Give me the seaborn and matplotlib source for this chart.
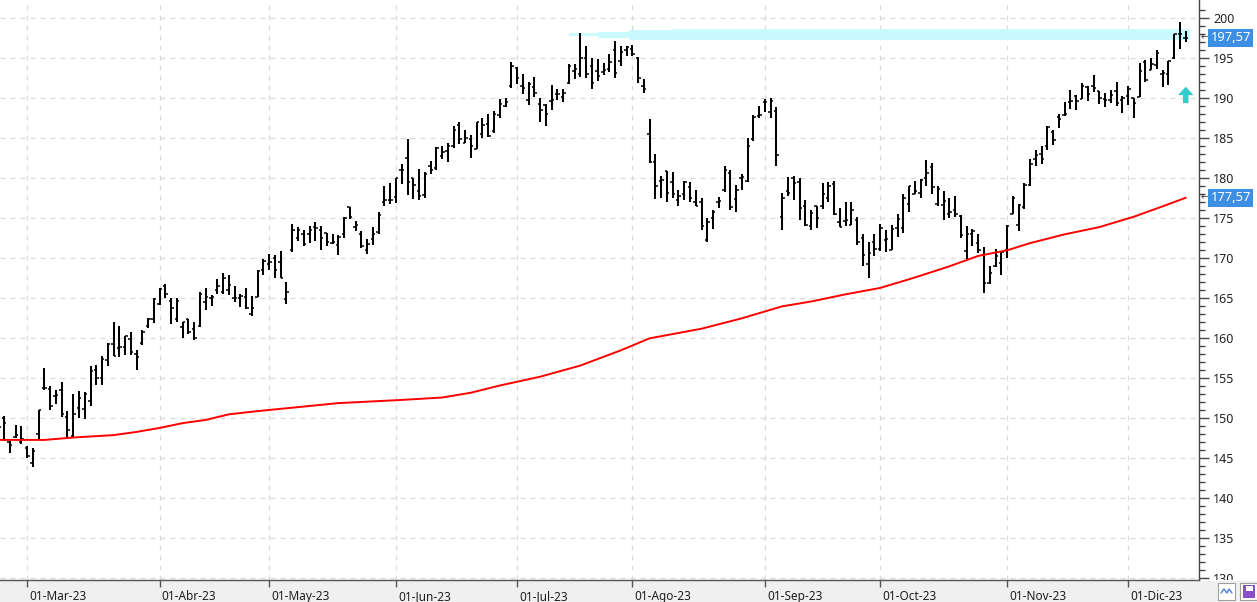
import matplotlib
matplotlib.use("Agg")
import matplotlib.pyplot as plt
import matplotlib.patches as mpatches
import matplotlib.transforms as mtransforms
import numpy as np
import pandas as pd
import seaborn as sns

# ---------------- data ----------------
us_holidays = ["2023-04-07", "2023-05-29", "2023-06-19", "2023-07-04", "2023-09-04", "2023-11-23"]
dates = pd.bdate_range("2023-02-22", "2023-12-15", freq="C", holidays=us_holidays)

open_ = [148.9,150.1,147.1,147.7,147.1,
 146.3,144.4,148.0,153.8,153.7,152.8,153.6,150.2,147.8,151.3,151.2,152.2,156.1,155.1,157.3,159.3,158.8,158.9,159.9,158.0,159.4,161.5,162.4,
 164.3,166.6,164.7,162.4,161.4,162.4,161.2,161.6,164.6,165.1,166.1,165.8,166.1,165.1,165.0,165.2,163.1,165.2,168.5,
 169.3,170.1,169.5,164.9,171.0,172.5,173.1,173.0,173.9,173.6,173.2,171.9,171.7,173.0,176.4,173.9,173.1,171.1,172.4,173.3,177.0,177.3,
 177.7,181.0,182.6,180.0,178.4,177.9,181.5,181.3,182.8,183.4,184.0,186.7,184.4,184.9,183.7,185.6,186.8,185.9,187.9,189.1,191.6,
 193.8,191.6,189.8,191.4,189.3,189.2,189.7,190.5,190.2,191.9,193.4,193.1,195.1,194.1,193.4,193.3,193.7,196.0,194.7,196.1,
 196.2,195.0,191.6,185.5,182.1,179.7,180.9,179.5,177.3,178.0,178.9,177.1,177.1,172.3,175.1,177.1,178.5,180.7,177.4,180.1,179.7,184.9,187.8,
 189.5,188.3,188.4,175.2,178.4,180.1,179.5,176.5,174.0,176.5,176.5,177.5,179.3,174.6,174.7,174.2,174.8,172.6,169.3,172.0,
 171.2,172.3,171.1,173.8,173.8,176.8,178.1,178.2,180.1,181.4,176.8,176.7,175.6,176.0,175.3,170.9,173.1,171.9,170.4,166.9,169.0,169.4,
 171.0,175.5,174.2,176.4,179.2,182.4,183.0,184.0,185.8,187.7,187.9,189.6,190.3,189.9,191.4,191.5,190.9,189.9,189.8,190.9,189.8,
 190.3,190.0,190.2,194.5,193.6,194.2,193.1,193.1,195.1,198.0,197.5]

high = [150.0,150.3,147.2,149.2,149.1,
 146.6,146.3,151.1,156.3,154.0,153.5,154.5,150.9,153.1,153.4,153.3,156.5,156.7,157.8,159.4,162.1,161.6,160.3,160.8,158.5,161.1,162.5,165.0,
 166.3,166.8,165.1,165.0,162.0,162.4,162.1,165.8,166.3,165.4,167.4,168.2,167.9,166.5,165.6,166.3,165.3,168.6,169.9,
 170.5,170.4,170.9,167.0,174.3,173.9,173.5,174.0,174.6,174.1,173.2,173.1,172.9,175.2,176.4,174.7,173.4,172.4,173.9,175.8,179.0,179.4,
 180.1,181.8,184.9,180.1,181.2,180.8,182.2,183.9,184.1,184.4,186.5,187.0,186.1,185.4,187.1,187.6,188.1,188.4,189.9,190.1,194.5,
 193.9,193.0,192.0,192.7,190.0,189.3,191.7,191.2,191.2,194.3,194.3,198.2,196.5,195.0,194.9,194.4,195.6,197.2,196.6,196.5,
 196.7,195.2,192.4,187.4,183.1,180.3,180.9,180.8,178.6,179.7,179.5,178.5,177.5,175.1,176.1,177.7,181.6,181.1,179.2,180.6,185.0,187.9,189.1,
 189.9,190.0,188.9,178.2,180.2,180.3,180.1,177.3,176.1,176.5,179.4,179.6,179.7,176.3,177.1,177.0,175.2,173.0,172.0,173.1,
 174.3,173.6,174.2,175.5,178.0,179.1,179.7,179.9,182.3,181.9,179.1,178.4,177.6,177.8,175.4,174.0,173.7,173.1,171.4,169.0,171.2,170.9,
 174.2,177.8,176.8,179.4,182.4,183.5,184.1,186.6,186.0,188.1,189.5,191.0,190.4,191.9,191.5,192.9,190.9,190.7,191.1,192.1,190.3,
 191.6,190.1,194.4,194.8,195.0,196.0,193.5,194.7,198.0,199.6,198.4]

low = [147.2,147.2,145.7,147.5,146.8,
 145.0,143.9,147.3,153.5,151.1,151.8,150.2,147.6,147.7,150.1,149.9,151.6,154.2,154.2,156.5,157.8,157.7,157.9,157.9,156.0,159.2,161.3,161.9,
 164.2,165.1,161.8,162.0,160.1,160.5,159.8,161.4,163.5,164.0,165.6,165.5,165.4,164.5,163.9,163.7,162.8,165.2,167.9,
 168.6,167.5,167.5,164.3,170.8,172.2,171.6,171.9,172.2,171.0,171.5,171.8,170.4,172.6,174.9,173.4,171.3,170.5,171.7,173.1,176.6,176.8,
 176.9,179.3,177.9,177.4,177.3,177.5,180.6,181.0,182.4,182.0,183.8,184.3,184.4,182.6,183.7,185.0,185.2,185.7,187.6,188.9,191.3,
 191.8,190.6,189.2,190.2,187.0,186.6,188.5,189.8,189.6,191.8,192.4,192.7,192.5,191.2,192.2,192.9,193.3,192.6,194.1,195.3,
 195.3,191.9,190.7,181.9,177.4,177.6,177.0,177.6,176.6,177.3,177.0,176.5,173.5,172.0,173.7,176.3,178.3,176.0,175.8,178.5,179.6,184.7,187.5,
 188.3,187.6,181.5,173.5,177.8,177.3,174.8,174.0,173.6,173.8,176.2,177.1,175.4,173.9,174.1,174.2,171.7,169.1,167.6,170.3,
 170.9,170.8,171.0,172.7,173.2,175.8,178.0,177.6,179.0,178.1,176.5,174.8,175.1,175.2,172.6,169.9,171.5,170.7,165.7,166.8,168.9,167.9,
 170.1,175.5,173.4,176.2,179.0,181.6,181.8,183.5,184.2,186.3,187.8,188.7,188.6,189.9,189.7,190.8,189.3,188.9,189.4,189.0,188.2,
 189.2,187.5,190.2,192.1,193.6,193.7,191.4,191.7,194.9,196.2,197.0]

close = [148.9,149.4,146.7,147.9,147.4,
 145.3,145.9,151.0,153.8,151.6,152.9,150.6,148.5,150.5,152.6,153.0,155.9,155.0,157.4,159.3,157.8,158.9,160.3,158.3,157.7,160.8,162.4,164.9,
 166.2,165.6,163.8,164.7,162.0,160.8,160.1,165.6,165.2,165.2,166.5,167.6,166.7,165.0,165.3,163.8,163.8,168.4,169.7,
 169.6,168.5,167.5,165.8,173.6,173.5,171.8,173.6,173.8,172.6,172.1,172.1,172.7,175.1,175.2,174.2,171.6,171.8,173.0,175.4,177.3,177.3,
 180.1,181.0,179.6,179.2,177.8,180.6,181.0,183.8,183.3,184.0,186.0,184.9,185.0,184.0,187.0,186.7,185.3,188.1,189.3,189.6,194.0,
 192.5,191.3,191.8,190.7,188.6,188.1,189.8,190.5,190.7,194.0,193.7,195.1,193.1,191.9,192.8,193.6,194.5,193.2,195.8,196.4,
 195.6,192.6,191.2,182.0,179.0,179.8,178.2,178.0,177.8,179.5,177.5,176.6,174.0,174.5,175.8,177.2,181.1,176.4,178.6,180.2,184.1,187.7,187.9,
 189.5,189.7,182.9,177.6,178.2,179.4,176.3,174.2,175.7,175.0,178.0,179.1,175.5,173.9,174.8,176.1,172.0,170.4,170.7,171.2,
 173.8,172.4,173.7,174.9,177.5,179.0,178.4,179.8,180.7,178.9,178.7,177.2,175.8,175.5,172.9,173.0,173.4,171.1,166.9,168.2,170.3,170.8,
 174.0,177.6,176.7,179.2,181.8,182.9,182.4,186.4,184.8,187.4,188.0,189.7,189.7,191.5,190.6,191.3,190.0,189.8,190.4,189.4,190.0,
 191.2,189.4,193.4,192.3,194.3,195.7,193.2,194.7,198.0,198.1,197.57]

# 200-session moving average (red line), read at bar positions
ma_idx = [0, 8, 13, 20, 24, 28, 32, 36, 40, 45, 52, 59, 70, 77, 82, 87, 94, 101, 108, 113,
          122, 129, 136, 141, 147, 153, 159, 165, 170, 175, 179, 185, 191, 197, 202, 206]
ma_val = [147.3, 147.3, 147.6, 147.9, 148.3, 148.8, 149.4, 149.8, 150.5, 150.9, 151.4, 151.9, 152.3, 152.6,
          153.2, 154.1, 155.2, 156.6, 158.5, 160.0, 161.2, 162.5, 164.0, 164.6, 165.5, 166.3, 167.6, 169.0,
          170.3, 171.0, 171.9, 173.0, 173.9, 175.2, 176.5, 177.57]

month_labels = ["01-Mar-23", "01-Abr-23", "01-May-23", "01-Jun-23", "01-Jul-23",
                "01-Ago-23", "01-Sep-23", "01-Oct-23", "01-Nov-23", "01-Dic-23"]
last_price = 197.57
ma_last = 177.57
resistance = (197.3, 198.6)   # cyan zone
signal_level = 189.4          # turquoise up-arrow base

# ---------------- figure ----------------
sns.set_theme(style="white")
plt.rcParams["font.family"] = ["Noto Sans", "DejaVu Sans"]

W, H = 1257, 602
fig = plt.figure(figsize=(W / 100, H / 100), dpi=100)
fig.patch.set_facecolor("white")
ax = fig.add_axes([0, 22 / H, 1199 / W, 580 / H])
ax.set_facecolor("white")

n = len(close)
idx = np.arange(n)
df = pd.DataFrame({"date": dates[:n], "i": idx, "open": open_, "high": high, "low": low, "close": close})

# month ticks: first session of each month from March on
first = df.groupby(df["date"].dt.to_period("M"))["i"].min()
tick_pos = [int(v) for v in first.values[1:]]

# grid
for p in tick_pos:
    ax.axvline(p, color="#dadada", lw=0.9, ls=(0, (4, 4)), zorder=0)
for v in range(130, 201, 5):
    ax.axhline(v, color="#dadada", lw=0.9, ls=(0, (4, 4)), zorder=0)

# cyan resistance zone (slightly tapered at its start)
zx = np.array([99.0, 104.0, 104.0, 109.5, 109.5, 117.0, 117.0, 206.8])
mid = np.mean(resistance)
half = np.array([0.22, 0.22, 0.4, 0.4, 0.62, 0.62, 0.72, 0.72])
ax.fill_between(zx, mid - half, mid + half, color="#c9fbfe", lw=0, zorder=1)

# OHLC bars
ax.vlines(df["i"], df["low"], df["high"], color="black", lw=1.45, zorder=3)
ax.hlines(df["open"], df["i"] - 0.42, df["i"], color="black", lw=1.1, zorder=3)
ax.hlines(df["close"], df["i"], df["i"] + 0.42, color="black", lw=1.1, zorder=3)

# moving average
sns.lineplot(x=ma_idx, y=ma_val, color="#ff0000", lw=1.4, ax=ax, zorder=4)

# turquoise up arrow
ax.arrow(206, signal_level, 0, 1.0, width=0.95, head_width=2.7, head_length=1.05,
         length_includes_head=False, color="#33cccc", lw=0, zorder=5)

ax.set_xlim(0.3, 208.3)
ax.set_ylim(129.79, 202.29)

# axes styling
for s in ["left", "top"]:
    ax.spines[s].set_visible(False)
ax.spines["right"].set_color("#444444")
ax.spines["bottom"].set_color("#555555")
ax.spines["right"].set_linewidth(1.0)
ax.spines["bottom"].set_linewidth(1.0)

ax.yaxis.tick_right()
ax.set_yticks(range(130, 201, 5))
ax.set_yticks(range(130, 202), minor=True)
ax.tick_params(axis="y", which="major", length=7, width=1, color="#444444", labelsize=9,
               labelcolor="#222222", pad=3, right=True, left=False)
ax.tick_params(axis="y", which="minor", length=4, width=1, color="#444444", right=True, left=False)

ax.set_xticks(tick_pos)
ax.set_xticklabels(month_labels)
ax.tick_params(axis="x", which="major", length=5, width=1, color="#555555", labelsize=8.5,
               labelcolor="#1e1e1e", pad=2, bottom=True)
offset = mtransforms.ScaledTranslation(2 / 100, 0, fig.dpi_scale_trans)
for lab in ax.get_xticklabels():
    lab.set_horizontalalignment("left")
    lab.set_transform(lab.get_transform() + offset)
ax.set_xlabel("")
ax.set_ylabel("")
ax.grid(False)

# y labels are hidden behind the bottom toolbar strip
clip = mtransforms.TransformedBbox(mtransforms.Bbox([[0, 22 / H], [1, 1]]), fig.transFigure)
for lab in ax.get_yticklabels():
    lab.set_clip_on(True)
    lab.set_clip_box(clip)

# price badges on the right axis
for val in [last_price, ma_last]:
    txt = f"{val:.2f}".replace(".", ",")
    ax.annotate(txt, xy=(1, val), xycoords=("axes fraction", "data"), xytext=(8.2, 0),
                textcoords="offset points", ha="left", va="center", color="white", fontsize=9.3,
                bbox=dict(boxstyle="square,pad=0.2", fc="#3d8fe3", ec="none"), zorder=10,
                annotation_clip=False)
    ax.annotate("\u2190", xy=(1, val), xycoords=("axes fraction", "data"), xytext=(1.2, 0),
                textcoords="offset points", ha="left", va="center", color="#444444", fontsize=7,
                family="DejaVu Sans", annotation_clip=False)

# bottom toolbar strip and icons
fig.patches.append(mpatches.Rectangle((0, 0), 1, 21.5 / H, transform=fig.transFigure,
                                      fc="#f0f0f0", ec="none", zorder=-1))
fig.patches.append(mpatches.Rectangle((1218 / W, 2 / H), 17 / W, 17 / H, transform=fig.transFigure,
                                      fc="white", ec="#a0a0a0", lw=0.8))
fig.lines.append(plt.Line2D([1221 / W, 1224 / W, 1227 / W, 1229 / W, 1232 / W],
                            [9 / H, 13 / H, 9 / H, 13 / H, 9 / H], transform=fig.transFigure,
                            color="#4a7fd0", lw=1))
fig.patches.append(mpatches.Rectangle((1240 / W, 2 / H), 17 / W, 17 / H, transform=fig.transFigure,
                                      fc="white", ec="#a0a0a0", lw=0.8))
fig.patches.append(mpatches.Rectangle((1243 / W, 4 / H), 12 / W, 13 / H, transform=fig.transFigure,
                                      fc="#8a4fc8", ec="none"))
fig.patches.append(mpatches.Rectangle((1245.5 / W, 11 / H), 7 / W, 5 / H, transform=fig.transFigure,
                                      fc="white", ec="none"))

fig.savefig("out.png", dpi=100, facecolor="white")
